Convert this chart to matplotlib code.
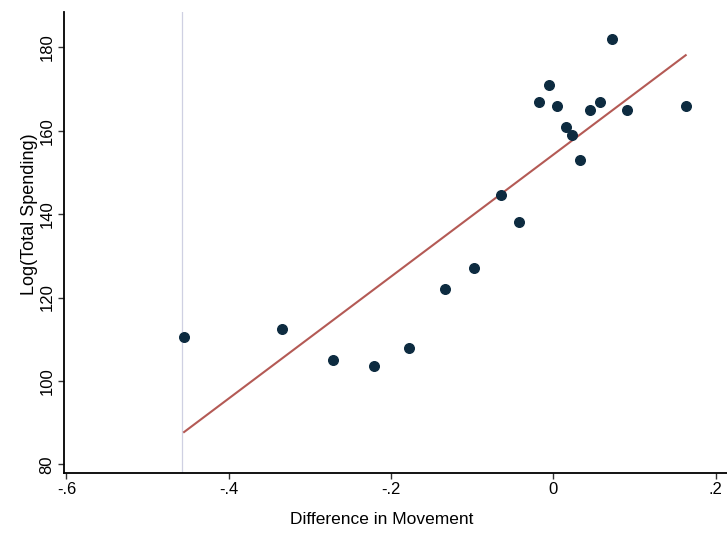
import numpy as np
import matplotlib
import matplotlib.pyplot as plt

matplotlib.use("Agg")

movement = [-0.455, -0.334, -0.272, -0.221, -0.178, -0.134, -0.098, -0.064,
            -0.042, -0.018, -0.006, 0.005, 0.015, 0.023, 0.033, 0.045,
            0.058, 0.072, 0.091, 0.163]
spending = [110.5, 112.5, 105, 103.5, 108, 122, 127, 144.5,
            138, 167, 171, 166, 161, 159, 153, 165,
            167, 182, 165, 166]
x_ticks = [-0.6, -0.4, -0.2, 0, 0.2]
x_labels = ["-.6", "-.4", "-.2", "0", ".2"]
y_ticks = [80, 100, 120, 140, 160, 180]

plt.rcParams["font.family"] = ["Liberation Sans", "DejaVu Sans"]

fig = plt.figure(figsize=(7.27, 5.42), dpi=100)
ax = fig.add_axes([0.088, 0.128, 0.93, 0.85])

# faint scan line
ax.axvline(-0.458, color="#cfd0e2", lw=0.9, zorder=0)

slope, intercept = np.polyfit(movement, spending, 1)
fit_x = np.array([min(movement), max(movement)])
ax.plot(fit_x, intercept + slope * fit_x, color="#b45a55", lw=1.5, zorder=2)

ax.scatter(movement, spending, s=48, color="#0d2b40", zorder=3)

ax.set_xlim(-0.603, 0.23)
ax.set_ylim(78, 188.5)
ax.set_xticks(x_ticks, x_labels)
ax.set_yticks(y_ticks, [str(v) for v in y_ticks])
ax.tick_params(axis="both", labelsize=12, length=4, width=1, color="#333333",
               pad=3)
plt.setp(ax.get_yticklabels(), rotation=90, va="center")

ax.spines["top"].set_visible(False)
ax.spines["right"].set_visible(False)
ax.spines["left"].set_linewidth(1.3)
ax.spines["bottom"].set_linewidth(1.3)

ax.set_xlabel("Difference in Movement", fontsize=12.5)
ax.xaxis.set_label_coords(0.47, -0.085)
ax.set_ylabel("Log(Total Spending)", fontsize=13)
ax.yaxis.set_label_coords(-0.038, 0.56)

fig.savefig("out.png", dpi=100)
plt.close(fig)
